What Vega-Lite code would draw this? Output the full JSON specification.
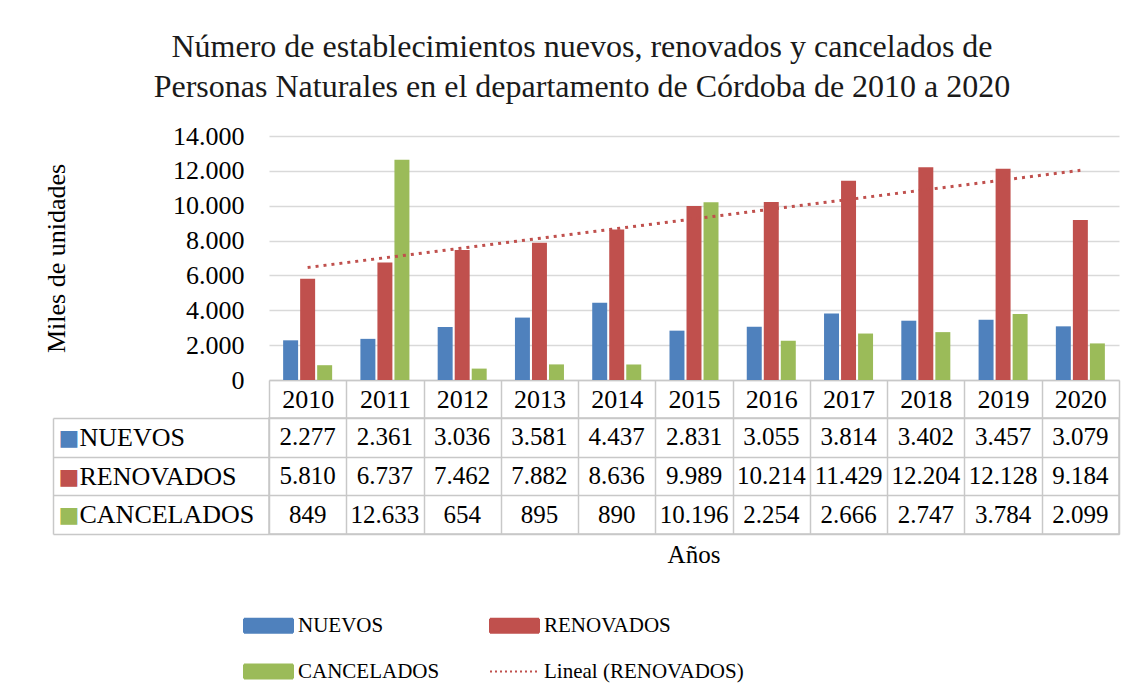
{
  "$schema": "https://vega.github.io/schema/vega-lite/v6.json",
  "background": "white",
  "padding": {"left": 43, "top": 31, "right": 10, "bottom": 5},
  "title": {
    "text": ["Número de establecimientos nuevos, renovados y cancelados de", "Personas Naturales en el departamento de Córdoba  de 2010 a 2020"],
    "font": "Liberation Serif",
    "fontSize": 32,
    "fontWeight": "normal",
    "color": "#1a1a1a",
    "lineHeight": 40,
    "anchor": "middle",
    "offset": 19
  },
  "datasets": {
    "d": [
      {"year": 2010, "series": "NUEVOS", "value": 2277},
      {"year": 2011, "series": "NUEVOS", "value": 2361},
      {"year": 2012, "series": "NUEVOS", "value": 3036},
      {"year": 2013, "series": "NUEVOS", "value": 3581},
      {"year": 2014, "series": "NUEVOS", "value": 4437},
      {"year": 2015, "series": "NUEVOS", "value": 2831},
      {"year": 2016, "series": "NUEVOS", "value": 3055},
      {"year": 2017, "series": "NUEVOS", "value": 3814},
      {"year": 2018, "series": "NUEVOS", "value": 3402},
      {"year": 2019, "series": "NUEVOS", "value": 3457},
      {"year": 2020, "series": "NUEVOS", "value": 3079},
      {"year": 2010, "series": "RENOVADOS", "value": 5810},
      {"year": 2011, "series": "RENOVADOS", "value": 6737},
      {"year": 2012, "series": "RENOVADOS", "value": 7462},
      {"year": 2013, "series": "RENOVADOS", "value": 7882},
      {"year": 2014, "series": "RENOVADOS", "value": 8636},
      {"year": 2015, "series": "RENOVADOS", "value": 9989},
      {"year": 2016, "series": "RENOVADOS", "value": 10214},
      {"year": 2017, "series": "RENOVADOS", "value": 11429},
      {"year": 2018, "series": "RENOVADOS", "value": 12204},
      {"year": 2019, "series": "RENOVADOS", "value": 12128},
      {"year": 2020, "series": "RENOVADOS", "value": 9184},
      {"year": 2010, "series": "CANCELADOS", "value": 849},
      {"year": 2011, "series": "CANCELADOS", "value": 12633},
      {"year": 2012, "series": "CANCELADOS", "value": 654},
      {"year": 2013, "series": "CANCELADOS", "value": 895},
      {"year": 2014, "series": "CANCELADOS", "value": 890},
      {"year": 2015, "series": "CANCELADOS", "value": 10196},
      {"year": 2016, "series": "CANCELADOS", "value": 2254},
      {"year": 2017, "series": "CANCELADOS", "value": 2666},
      {"year": 2018, "series": "CANCELADOS", "value": 2747},
      {"year": 2019, "series": "CANCELADOS", "value": 3784},
      {"year": 2020, "series": "CANCELADOS", "value": 2099}
    ]
  },
  "bounds": "flush",
  "spacing": 38,
  "vconcat": [
    {
      "width": 850,
      "height": 244,
      "data": {"name": "d"},
      "encoding": {
        "y": {
          "field": "value", "type": "quantitative",
          "scale": {"domain": [0, 14000]},
          "axis": {
            "values": [0, 2000, 4000, 6000, 8000, 10000, 12000, 14000],
            "format": ",.0f",
            "labelOverlap": false,
            "labelSeparation": 0,
            "title": "Miles de unidades",
            "titleFont": "Liberation Serif",
            "titleFontSize": 26,
            "titleFontWeight": "normal",
            "titleColor": "#000",
            "titlePadding": 103,
            "labelFont": "Liberation Serif",
            "labelFontSize": 26,
            "labelColor": "#000",
            "labelPadding": 25,
            "ticks": false,
            "domain": false,
            "grid": true,
            "gridColor": "#D9D9D9",
            "gridWidth": 1.5
          }
        }
      },
      "layer": [
        {
          "mark": {"type": "bar"},
          "encoding": {
            "x": {
              "field": "year", "type": "ordinal",
              "scale": {"paddingInner": 0, "paddingOuter": 0},
              "axis": {"labels": false, "ticks": false, "domain": true, "domainColor": "#C8C8C8", "domainWidth": 1.5, "title": null, "grid": false}
            },
            "xOffset": {
              "field": "series", "type": "nominal",
              "sort": ["NUEVOS", "RENOVADOS", "CANCELADOS"],
              "scale": {"paddingInner": 0.12, "paddingOuter": 0.83}
            },
            "color": {
              "field": "series", "type": "nominal",
              "scale": {
                "domain": ["NUEVOS", "RENOVADOS", "CANCELADOS", "Lineal (RENOVADOS)"],
                "range": ["#4F81BD", "#C0504D", "#9BBB59", "#C0504D"]
              },
              "legend": {
                "orient": "none",
                "legendX": -26,
                "legendY": 464,
                "direction": "horizontal",
                "columns": 2,
                "title": null,
                "symbolType": "M-1,-0.2857H1V0.2857H-1Z",
                "symbolSize": 2401,
                "symbolStrokeWidth": 2,
                "symbolOpacity": 1,
                "labelFont": "Liberation Serif",
                "labelFontSize": 21,
                "labelColor": "#000",
                "labelOffset": 4,
                "labelLimit": 400,
                "columnPadding": 46,
                "rowPadding": 9,
                "encode": {
                  "symbols": {
                    "update": {
                      "size": {"value": 2401},
                      "shape": {"signal": "datum.value === 'Lineal (RENOVADOS)' ? 'M-1,0H1' : 'M-1,-0.2857H1V0.2857H-1Z'"},
                      "fill": {"signal": "datum.value === 'NUEVOS' ? '#4F81BD' : datum.value === 'RENOVADOS' ? '#C0504D' : datum.value === 'CANCELADOS' ? '#9BBB59' : 'transparent'"},
                      "stroke": {"signal": "datum.value === 'Lineal (RENOVADOS)' ? '#C0504D' : 'transparent'"},
                      "strokeDash": {"signal": "datum.value === 'Lineal (RENOVADOS)' ? [2, 3] : [1, 0]"}
                    }
                  }
                }
              }
            }
          }
        },
        {
          "transform": [
            {"filter": "datum.series === 'RENOVADOS'"},
            {"regression": "value", "on": "year", "extent": [2010, 2020]}
          ],
          "mark": {"type": "line", "strokeDash": [3, 5], "strokeWidth": 3},
          "encoding": {
            "x": {"field": "year", "type": "ordinal", "bandPosition": 0.5},
            "color": {"datum": "Lineal (RENOVADOS)"}
          }
        }
      ]
    },
    {
      "width": 850,
      "height": 116,
      "data": {"name": "d"},
      "view": {"stroke": "#C8C8C8", "strokeWidth": 1.5},
      "title": {"text": "Años", "orient": "bottom", "anchor": "middle", "font": "Liberation Serif", "fontSize": 25, "fontWeight": "normal", "color": "#000", "offset": 8},
      "layer": [
        {
          "mark": {"type": "text", "font": "Liberation Serif", "fontSize": 25, "color": "#000", "baseline": "middle"},
          "encoding": {
            "x": {
              "field": "year", "type": "ordinal",
              "scale": {"paddingInner": 0, "paddingOuter": 0},
              "axis": {
                "orient": "top", "title": null, "domain": false,
                "ticks": true, "tickSize": 38, "tickColor": "#C8C8C8", "tickWidth": 1.5, "tickBand": "extent",
                "grid": true, "gridColor": "#C8C8C8", "gridWidth": 1.5,
                "labelFont": "Liberation Serif", "labelFontSize": 26, "labelColor": "#000",
                "labelPadding": -19, "labelBaseline": "middle", "labelAngle": 0
              }
            },
            "y": {
              "field": "series", "type": "nominal",
              "scale": {"domain": ["NUEVOS", "RENOVADOS", "CANCELADOS"], "paddingInner": 0, "paddingOuter": 0},
              "axis": {
                "orient": "left", "title": null, "domain": false,
                "ticks": true, "tickSize": 216, "tickColor": "#C8C8C8", "tickWidth": 1.5, "tickBand": "extent",
                "grid": true, "gridColor": "#C8C8C8", "gridWidth": 1.5,
                "labelFont": "Liberation Serif", "labelFontSize": 26, "labelColor": "#000",
                "labelAlign": "left", "labelBaseline": "middle", "labelPadding": -26, "labelLimit": 400
              }
            },
            "text": {"field": "value", "type": "quantitative", "format": ",.0f"}
          }
        },
        {
          "mark": {"type": "text", "text": ""},
          "encoding": {
            "y": {
              "field": "series", "type": "nominal",
              "scale": {"domain": ["NUEVOS", "RENOVADOS", "CANCELADOS"], "paddingInner": 0, "paddingOuter": 0},
              "axis": {
                "orient": "left", "title": null, "offset": 216,
                "domain": true, "domainColor": "#C8C8C8", "domainWidth": 1.5,
                "ticks": false, "grid": false,
                "labelExpr": "'■'",
                "labelFont": "DejaVu Sans", "labelFontSize": 22,
                "labelColor": {"expr": "datum.value === 'NUEVOS' ? '#4F81BD' : datum.value === 'RENOVADOS' ? '#C0504D' : '#9BBB59'"},
                "labelAlign": "left", "labelBaseline": "middle", "labelPadding": -5
              }
            }
          }
        }
      ],
      "resolve": {"scale": {"y": "independent"}, "axis": {"y": "independent"}}
    }
  ],
  "config": {
    "font": "Liberation Serif",
    "locale": {"number": {"decimal": ",", "thousands": ".", "grouping": [3], "currency": ["$", ""]}},
    "axis": {"labelOverlap": false},
    "axisY": {"labelOverlap": false},
    "axisQuantitative": {"labelOverlap": false},
    "view": {"stroke": null}
  }
}
